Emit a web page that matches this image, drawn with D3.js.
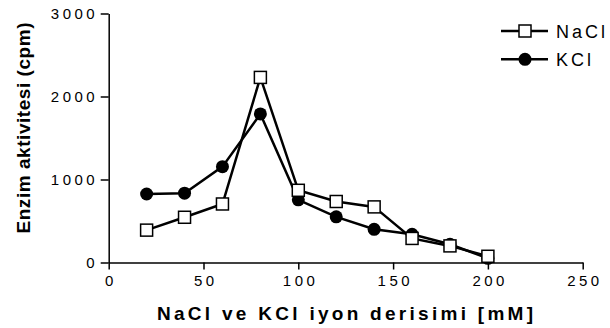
<!DOCTYPE html>
<html>
<head>
<meta charset="utf-8">
<script src="https://cdn.jsdelivr.net/npm/d3@7"></script>
<style>
body { margin: 0; background: white; }
</style>
</head>
<body>
<div id="canvas"></div>
<script>
var w = 610;
var h = 328;

// data
var conc = [20, 40, 60, 80, 100, 120, 140, 160, 180, 200];
var nacl = [390, 545, 705, 2230, 870, 735, 670, 290, 200, 75];
var kcl = [825, 835, 1155, 1790, 755, 550, 400, 340, 220, 50];
var xTicks = [0, 50, 100, 150, 200, 250];
var yTicks = [0, 1000, 2000, 3000];
var seriesNames = ["NaCl", "KCl"];

var svg = d3.select("#canvas").append("svg")
	.attr("width", w)
	.attr("height", h)
	.style("background-color", "white")
	.style("font-family", "Liberation Sans, Arial, sans-serif");

var xScale = d3.scaleLinear()
	.domain([0, 250])
	.range([108.7, 582.7]);

var yScale = d3.scaleLinear()
	.domain([0, 3000])
	.range([262.5, 13.5]);

// axes
var xAxis = svg.append("g")
	.attr("transform", "translate(0," + yScale(0) + ")")
	.call(d3.axisBottom(xScale).tickValues(xTicks).tickFormat(d3.format("d"))
		.tickSize(7).tickSizeOuter(0).tickPadding(6));

var yAxis = svg.append("g")
	.attr("transform", "translate(" + xScale(0) + ",0)")
	.call(d3.axisLeft(yScale).tickValues(yTicks).tickFormat(d3.format("d"))
		.tickSize(8).tickSizeOuter(0).tickPadding(6));

[xAxis, yAxis].forEach(function(ax){
	ax.select(".domain").attr("stroke", "black").attr("stroke-width", 1.5);
	ax.selectAll(".tick line").attr("stroke", "black").attr("stroke-width", 1.5);
	ax.selectAll(".tick text")
		.attr("fill", "black")
		.style("font-family", "Liberation Sans, Arial, sans-serif")
		.style("font-size", "15px")
		.style("letter-spacing", "3.5px");
});
xAxis.selectAll(".tick text").attr("dx", "1.75px");
yAxis.selectAll(".tick text").attr("dx", "3.5px");

// axis titles
svg.append("text")
	.attr("x", 345)
	.attr("y", 320)
	.attr("text-anchor", "middle")
	.attr("textLength", 376)
	.attr("lengthAdjust", "spacing")
	.style("font-size", "19px")
	.style("font-weight", "bold")
	.text("NaCl ve KCl iyon derisimi [mM]");

svg.append("text")
	.attr("transform", "translate(30,128) rotate(-90)")
	.attr("text-anchor", "middle")
	.attr("textLength", 211)
	.attr("lengthAdjust", "spacing")
	.style("font-size", "19px")
	.style("font-weight", "bold")
	.text("Enzim aktivitesi (cpm)");

var line = d3.line()
	.x(function(d, i){ return xScale(conc[i]); })
	.y(function(d){ return yScale(d); });

// KCl first so NaCl squares sit on top
svg.append("path")
	.attr("d", line(kcl))
	.attr("fill", "none")
	.attr("stroke", "black")
	.attr("stroke-width", 2.5);

svg.selectAll(".kcl")
	.data(kcl)
	.join("circle")
	.attr("class", "kcl")
	.attr("cx", function(d, i){ return xScale(conc[i]); })
	.attr("cy", function(d){ return yScale(d); })
	.attr("r", 6.5)
	.attr("fill", "black");

svg.append("path")
	.attr("d", line(nacl))
	.attr("fill", "none")
	.attr("stroke", "black")
	.attr("stroke-width", 2.5);

svg.selectAll(".nacl")
	.data(nacl)
	.join("rect")
	.attr("class", "nacl")
	.attr("x", function(d, i){ return xScale(conc[i]) - 6; })
	.attr("y", function(d){ return yScale(d) - 6; })
	.attr("width", 12)
	.attr("height", 12)
	.attr("fill", "white")
	.attr("stroke", "black")
	.attr("stroke-width", 1.5);

// legend
var legend = svg.selectAll(".legend")
	.data(seriesNames)
	.join("g")
	.attr("class", "legend")
	.attr("transform", function(d, i){ return "translate(501," + (31 + i * 28.3) + ")"; });

legend.append("line")
	.attr("x1", 0)
	.attr("x2", 47)
	.attr("stroke", "black")
	.attr("stroke-width", 2.5);

legend.filter(function(d){ return d == "NaCl"; })
	.append("rect")
	.attr("x", 18)
	.attr("y", -6)
	.attr("width", 12)
	.attr("height", 12)
	.attr("fill", "white")
	.attr("stroke", "black")
	.attr("stroke-width", 1.5);

legend.filter(function(d){ return d == "KCl"; })
	.append("circle")
	.attr("cx", 24)
	.attr("r", 6.5)
	.attr("fill", "black");

legend.append("text")
	.attr("x", 55)
	.attr("y", 6.5)
	.style("font-size", "18px")
	.style("letter-spacing", "3px")
	.text(function(d){ return d; });
</script>
</body>
</html>
